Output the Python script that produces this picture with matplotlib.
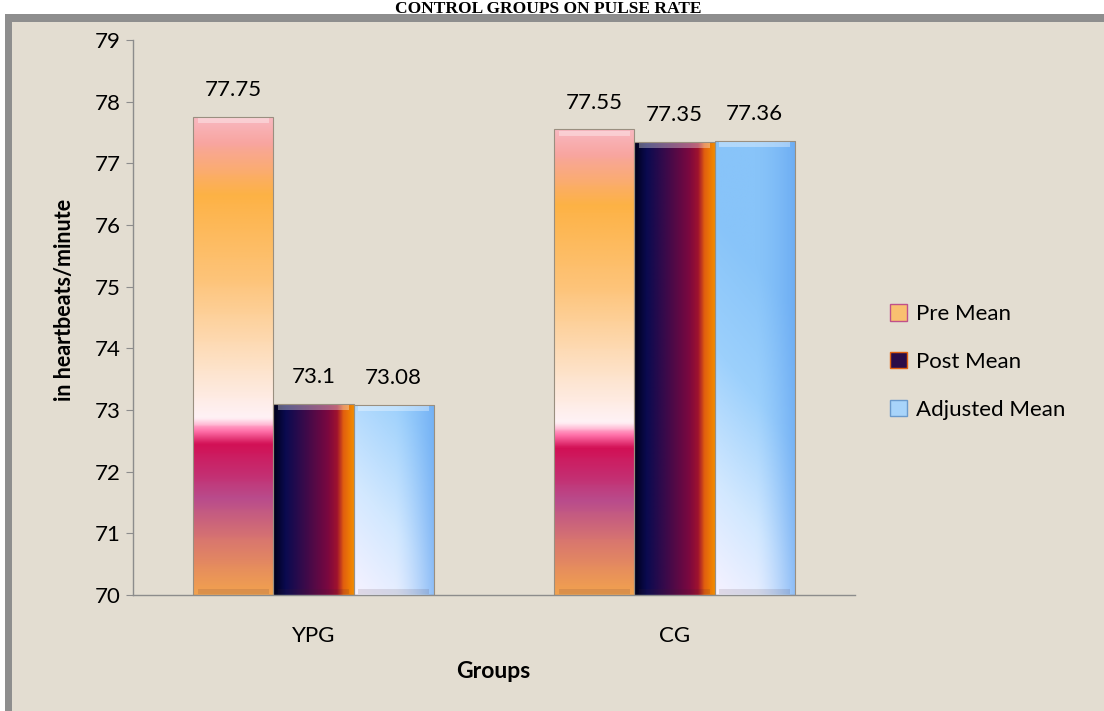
"""
pulse rate chart: pre / post / adjusted means for YPG and CG
bars drawn with gradient fills clipped to the bar shapes
"""

import numpy as np
import matplotlib.pyplot as plt
from matplotlib.colors import LinearSegmentedColormap
from matplotlib.patches import Rectangle, Patch

plt.rcParams.update({
    "font.family": ["Lato", "DejaVu Sans"],
    "font.size": 16,
})

# data
groups = ["YPG", "CG"]
series = ["Pre Mean", "Post Mean", "Adjusted Mean"]
pre_mean = [77.75, 77.55]
post_mean = [73.1, 77.35]
adj_mean = [73.08, 77.36]
y_ticks = [70, 71, 72, 73, 74, 75, 76, 77, 78, 79]

# gradient colour maps
pre_cmap = LinearSegmentedColormap.from_list("pre", [
    (0.00, "#F2A24E"), (0.11, "#D9776E"), (0.20, "#B94C8C"),
    (0.25, "#C42F72"), (0.315, "#D21055"), (0.34, "#FF6FA8"),
    (0.37, "#FFF2F6"), (0.48, "#FDE2C8"), (0.66, "#FDC47A"),
    (0.84, "#FDB245"), (0.95, "#F8A5A0"), (1.00, "#F9B8C0"),
])
post_cmap = LinearSegmentedColormap.from_list("post", [
    (0.00, "#00001A"), (0.15, "#0A0A50"), (0.40, "#3C0A4A"),
    (0.68, "#7A0840"), (0.80, "#A0122E"), (0.88, "#E2600E"),
    (1.00, "#F28A00"),
])
adj_cmap = LinearSegmentedColormap.from_list("adj", [
    (0.00, "#F6F2FF"), (0.30, "#D2E8FF"), (0.65, "#9CD0FC"),
    (1.00, "#88C4F9"),
])

fig = plt.figure(figsize=(11.04, 7.11), dpi=100)
fig.patch.set_facecolor("white")

# framed panel
fig.patches.append(Rectangle((5 / 1104, 0), 1, 1 - 14 / 711,
                             transform=fig.transFigure, facecolor="#8E8E8E",
                             edgecolor="none", zorder=-3))
fig.patches.append(Rectangle((12 / 1104, 0), 1, 1 - 22 / 711,
                             transform=fig.transFigure, facecolor="#E3DDD1",
                             edgecolor="none", zorder=-2))

fig.text(0.497, 1 - 13 / 711, "CONTROL GROUPS ON PULSE RATE",
         ha="center", va="baseline", fontsize=12.5, fontweight="bold",
         family="Liberation Serif")

ax = fig.add_axes([133 / 1104, 116 / 711, 722 / 1104, 555 / 711])
ax.set_facecolor("none")

x = np.arange(len(groups))
width = 0.222
offsets = [-width, 0, width]
all_vals = [pre_mean, post_mean, adj_mean]
base = 70

px_x = 361.0   # pixels per x unit
px_y = 61.67   # pixels per y unit


def grad_image(kind, h):
    ny, nx = 240, 60
    xf = np.linspace(0, 1, nx)[None, :].repeat(ny, 0)
    yf = np.linspace(0, 1, ny)[:, None].repeat(nx, 1)
    if kind == 0:
        img = pre_cmap(yf)
    elif kind == 1:
        img = post_cmap(xf)
    else:
        dx = xf * width * px_x
        dy = yf * h * px_y
        t = np.clip((dx * 1.2 + dy) / 380.0, 0, 1)
        img = adj_cmap(t)
        # darker towards right edge
        dark = np.array([0.36, 0.62, 0.94, 1.0])
        k = np.clip((xf - 0.5) / 0.5, 0, 1)[..., None] ** 1.5 * 0.6
        img = img * (1 - k) + dark * k
    return img


for s, vals in enumerate(all_vals):
    for g, v in enumerate(vals):
        x0 = x[g] + offsets[s] - width / 2
        h = v - base
        rect = Rectangle((x0, base), width, h, facecolor="none",
                         edgecolor="#9A8F80", linewidth=0.8, zorder=3)
        ax.add_patch(rect)
        im = ax.imshow(grad_image(s, h), extent=(x0, x0 + width, base, v),
                       origin="lower", aspect="auto", zorder=2,
                       interpolation="bilinear")
        im.set_clip_path(rect)
        # bevel highlight on top edge, shade at the bottom
        ax.add_patch(Rectangle((x0 + 0.012, v - 0.1), width - 0.024, 0.08,
                               facecolor="white", alpha=0.35,
                               edgecolor="none", zorder=4))
        ax.add_patch(Rectangle((x0 + 0.012, base + 0.02), width - 0.024, 0.07,
                               facecolor="#402030", alpha=0.12,
                               edgecolor="none", zorder=4))
        ax.annotate(f"{v:g}", (x[g] + offsets[s], v), xytext=(0, 12),
                    textcoords="offset points", ha="center", va="bottom",
                    fontsize=16)

ax.set_xlim(-0.5, 1.5)
ax.set_ylim(70, 79)
ax.set_yticks(y_ticks)
ax.set_xticks(x)
ax.set_xticklabels(groups)
ax.tick_params(axis="x", length=0, pad=22, labelsize=16)
ax.tick_params(axis="y", length=5, color="#8C8C8C", labelsize=16, pad=4)
for side in ["top", "right"]:
    ax.spines[side].set_visible(False)
for side in ["left", "bottom"]:
    ax.spines[side].set_color("#8C8C8C")
    ax.spines[side].set_linewidth(1.0)

fig.text(65 / 1104, 1 - 300 / 711, "in heartbeats/minute", rotation=90,
         ha="center", va="center", fontsize=15.5, fontweight="bold")
fig.text(493 / 1104, 1 - 672 / 711, "Groups", ha="center", va="center",
         fontsize=16.5, fontweight="bold")

handles = [Patch(facecolor="#F9C070", edgecolor="#C0508A"),
           Patch(facecolor="#2A0C48", edgecolor="#E06010"),
           Patch(facecolor="#A8D4FA", edgecolor="#6A9ACC")]
leg = fig.legend(handles, series, loc="center left",
                 bbox_to_anchor=(890 / 1104, 1 - 362 / 711), frameon=False,
                 fontsize=16, handlelength=0.75, handleheight=0.75,
                 handletextpad=0.4, labelspacing=1.25, borderpad=0,
                 borderaxespad=0)

fig.savefig("out.png", dpi=100)
